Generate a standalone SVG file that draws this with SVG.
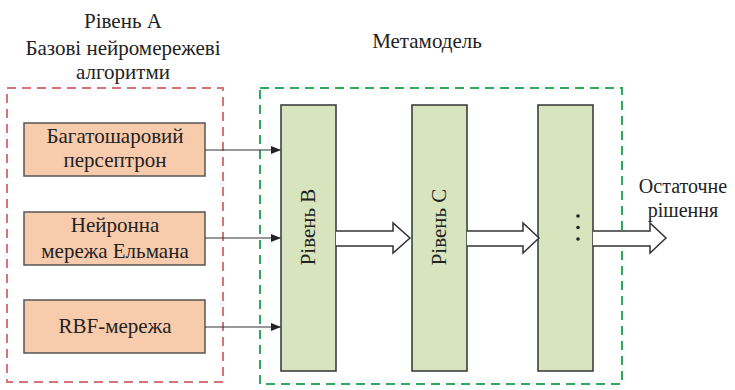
<svg xmlns="http://www.w3.org/2000/svg" width="735" height="390" viewBox="0 0 735 390">
<defs>
<marker id="ah" markerWidth="10" markerHeight="8" refX="9" refY="4" orient="auto" markerUnits="userSpaceOnUse">
<path d="M0,0 L10,4 L0,8 Z" fill="#222"/>
</marker>
</defs>
<g id="groupA">
<rect x="7" y="88" width="216" height="294" fill="none" stroke="#D9737A" stroke-width="2" stroke-dasharray="9 6"/>
<text x="123" y="28" font-size="21" font-family="serif" text-anchor="middle" fill="#222">Рівень А</text>
<text x="123" y="55" font-size="21" font-family="serif" text-anchor="middle" fill="#222">Базові нейромережеві</text>
<text x="123" y="79" font-size="21" font-family="serif" text-anchor="middle" fill="#222">алгоритми</text>
</g>
<g id="meta">
<rect x="260" y="88" width="362" height="296" fill="none" stroke="#2EAA5E" stroke-width="2" stroke-dasharray="9 6"/>
<text x="427" y="48" font-size="21" font-family="serif" text-anchor="middle" fill="#222">Метамодель</text>
</g>
<g id="mlp">
<rect x="24" y="123" width="181" height="53" fill="#F8CBAD" stroke="#555" stroke-width="1.5"/>
<text x="115" y="143" font-size="21" font-family="serif" text-anchor="middle" fill="#222">Багатошаровий</text>
<text x="115" y="167" font-size="21" font-family="serif" text-anchor="middle" fill="#222">персептрон</text>
</g>
<g id="elman">
<rect x="24" y="212" width="181" height="53" fill="#F8CBAD" stroke="#555" stroke-width="1.5"/>
<text x="115" y="232" font-size="21" font-family="serif" text-anchor="middle" fill="#222">Нейронна</text>
<text x="115" y="258" font-size="21" font-family="serif" text-anchor="middle" fill="#222">мережа Ельмана</text>
</g>
<g id="rbf">
<rect x="24" y="300" width="181" height="53" fill="#F8CBAD" stroke="#555" stroke-width="1.5"/>
<text x="115" y="333" font-size="21" font-family="serif" text-anchor="middle" fill="#222">RBF-мережа</text>
</g>
<g id="levelB">
<rect x="281" y="105" width="55" height="266" fill="#D7E4BD" stroke="#333" stroke-width="1.5"/>
<text transform="translate(315,227) rotate(-90)" font-size="21" font-family="serif" text-anchor="middle" fill="#222">Рівень B</text>
</g>
<g id="levelC">
<rect x="412" y="105" width="55" height="266" fill="#D7E4BD" stroke="#333" stroke-width="1.5"/>
<text transform="translate(446,227) rotate(-90)" font-size="21" font-family="serif" text-anchor="middle" fill="#222">Рівень C</text>
</g>
<g id="levelN">
<rect x="538" y="105" width="55" height="266" fill="#D7E4BD" stroke="#333" stroke-width="1.5"/>
<circle cx="578" cy="216" r="1.8" fill="#222"/>
<circle cx="578" cy="227.5" r="1.8" fill="#222"/>
<circle cx="578" cy="239" r="1.8" fill="#222"/>
</g>
<g id="output">
<text x="683" y="193" font-size="20" font-family="serif" text-anchor="middle" fill="#222">Остаточне</text>
<text x="683" y="217" font-size="20" font-family="serif" text-anchor="middle" fill="#222">рішення</text>
</g>
<g id="connectors" stroke="#333">
<line x1="205" y1="150" x2="280" y2="150" stroke-width="1.2" marker-end="url(#ah)"/>
<line x1="205" y1="238" x2="280" y2="238" stroke-width="1.2" marker-end="url(#ah)"/>
<line x1="205" y1="327" x2="280" y2="327" stroke-width="1.2" marker-end="url(#ah)"/>
<path d="M336,231 L393,231 L393,223 L410,238 L393,253 L393,246 L336,246" fill="#fff" stroke-width="1.5"/>
<path d="M467,231 L523,231 L523,223 L539,238 L523,253 L523,246 L467,246" fill="#fff" stroke-width="1.5"/>
<path d="M593,231 L650,231 L650,223 L666,238 L650,253 L650,246 L593,246" fill="#fff" stroke-width="1.5"/>
</g>
</svg>
